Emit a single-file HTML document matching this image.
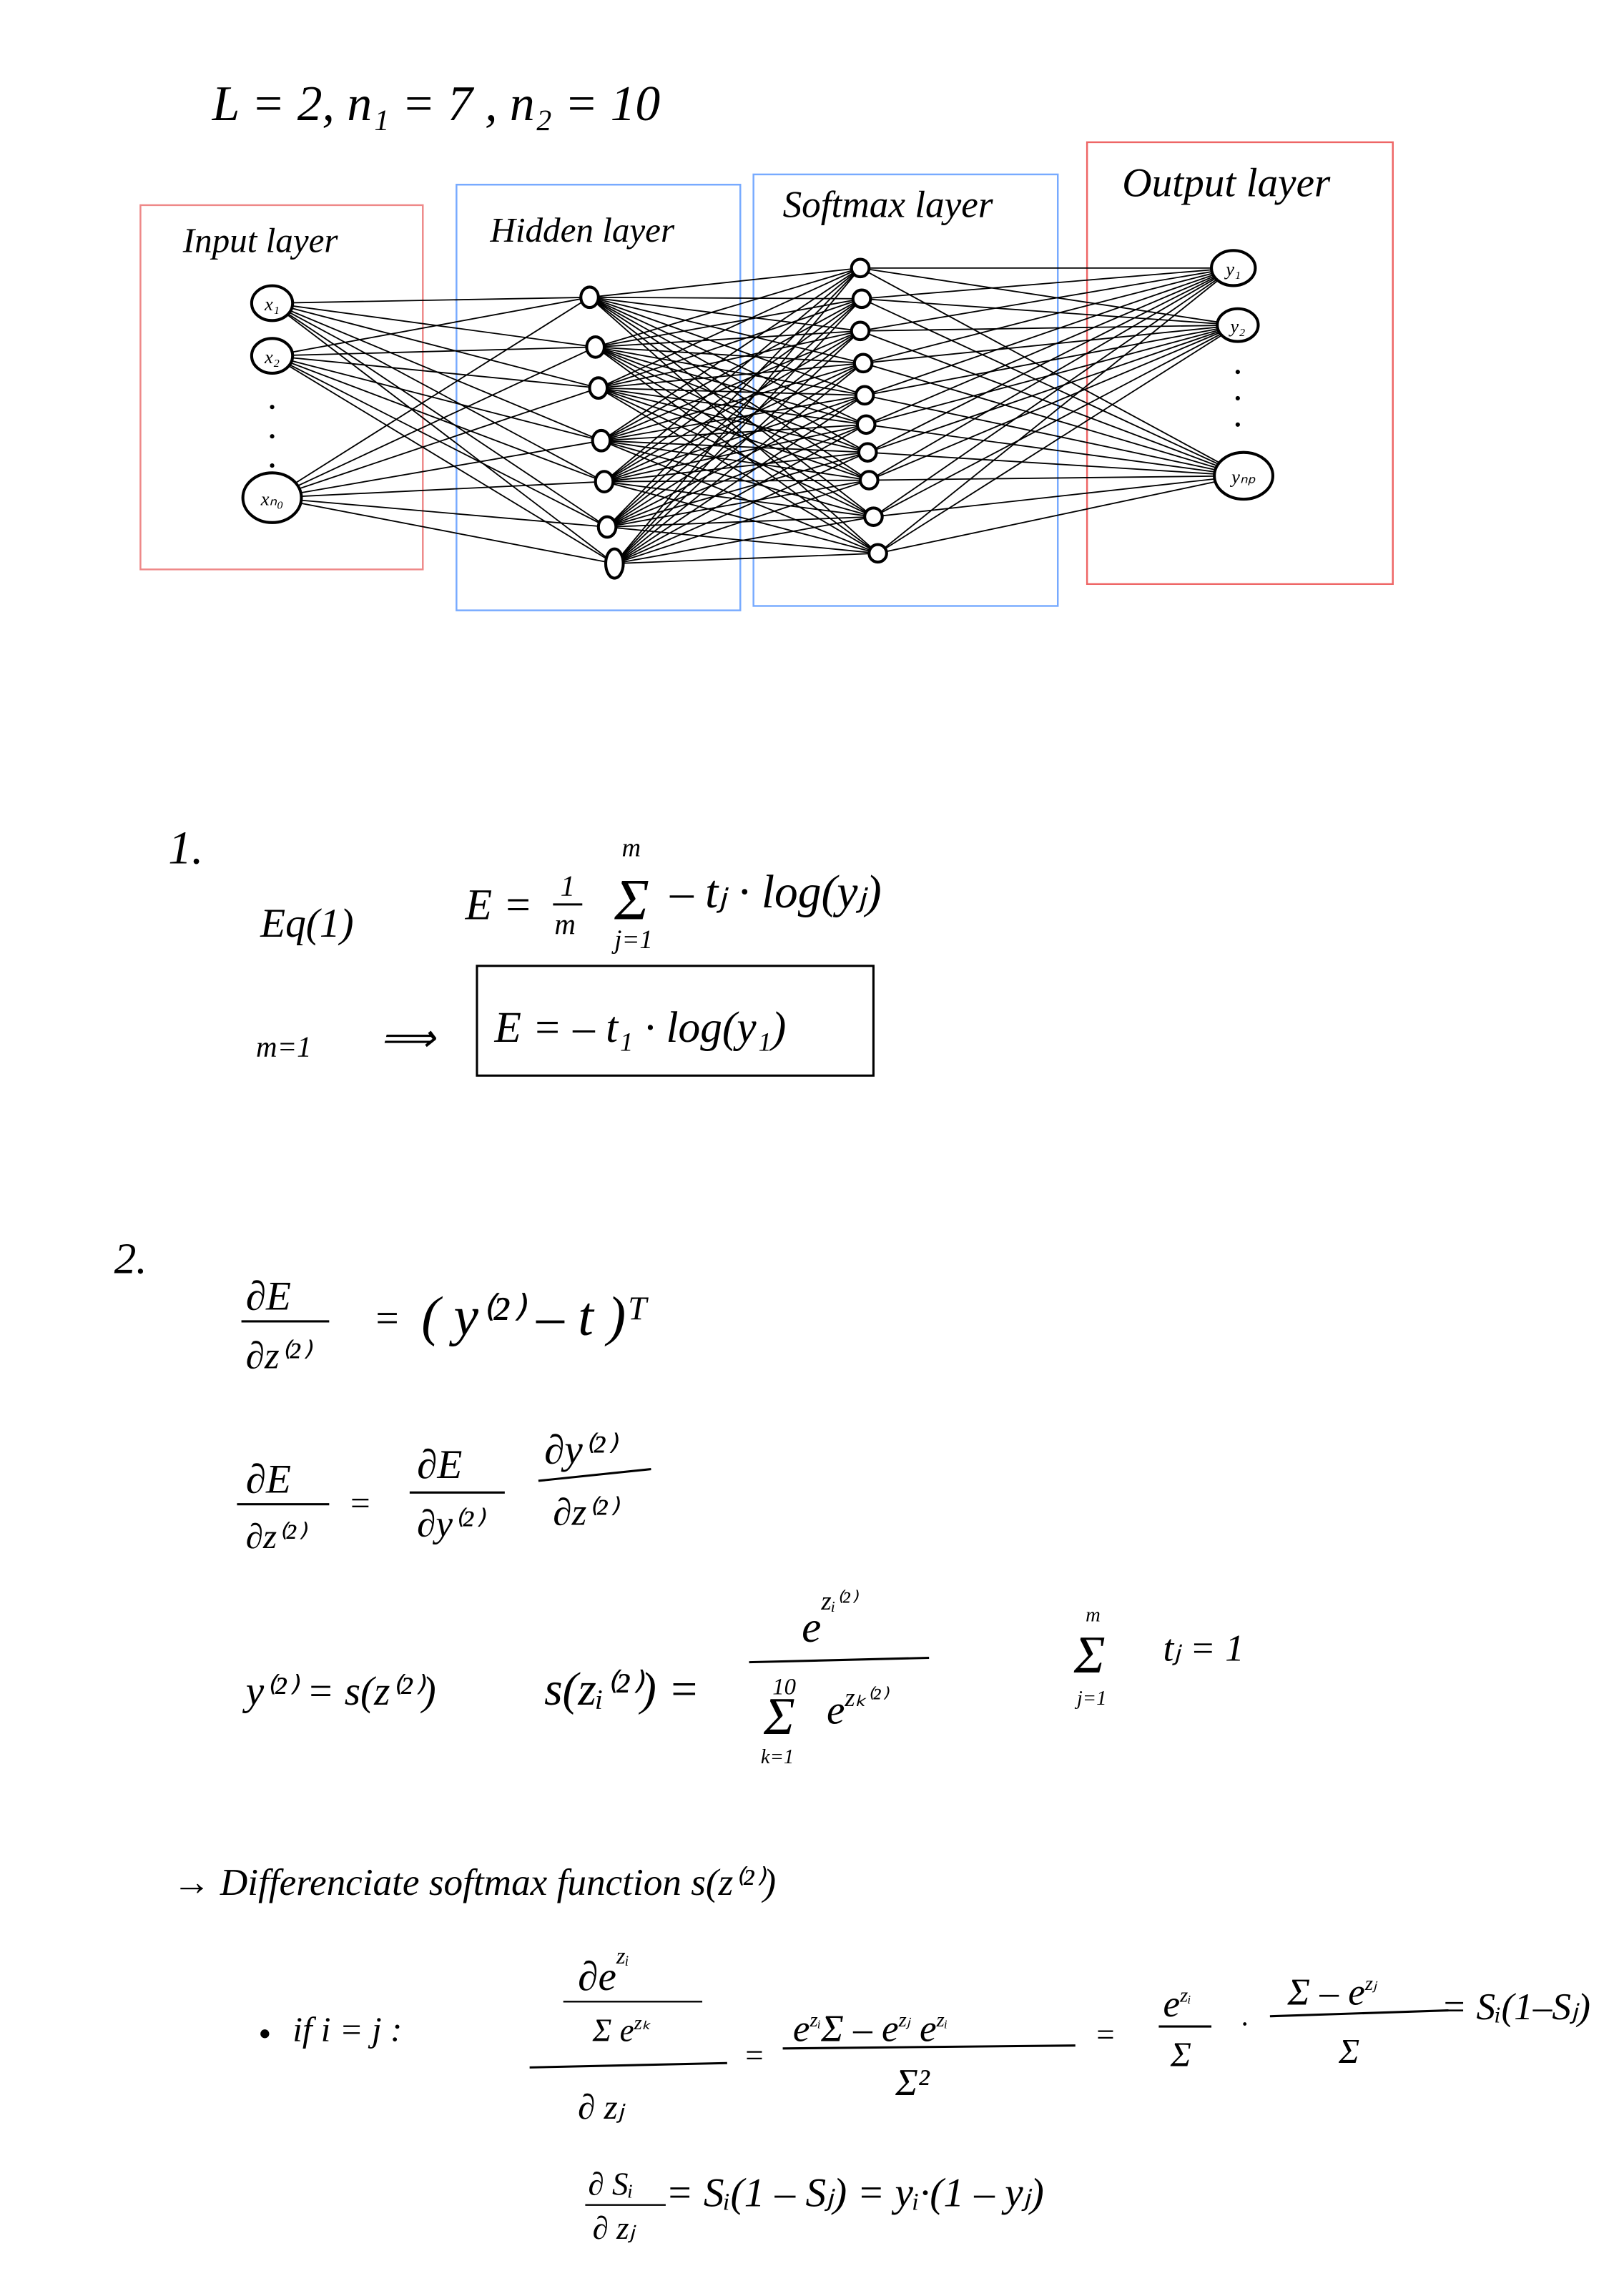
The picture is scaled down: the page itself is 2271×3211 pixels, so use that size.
<!DOCTYPE html>
<html><head><meta charset="utf-8"><style>
html,body{margin:0;padding:0;background:#fff}
svg{display:block}
text{font-family:"Liberation Serif",serif;fill:#000;font-style:italic}
</style></head><body>
<svg id="s" width="2271" height="3211" viewBox="0 0 1110 1569" xmlns="http://www.w3.org/2000/svg">
<rect width="1110" height="1569" fill="#fff"/>
<text x="145" y="82" font-size="34">L = 2,   n₁ = 7 ,  n₂ = 10</text>
<rect x="96" y="140" width="193" height="249" fill="none" stroke="#e88" stroke-width="1.2"/>
<rect x="312" y="126" width="194" height="291" fill="none" stroke="#7af" stroke-width="1.2"/>
<rect x="515" y="119" width="208" height="295" fill="none" stroke="#7af" stroke-width="1.2"/>
<rect x="743" y="97" width="209" height="302" fill="none" stroke="#e66" stroke-width="1.2"/>
<text x="125" y="172" font-size="24">Input layer</text>
<text x="335" y="165" font-size="24">Hidden layer</text>
<text x="535" y="148" font-size="26">Softmax layer</text>
<text x="767" y="134" font-size="28">Output layer</text>
<g id="edges" stroke="#000" stroke-width="0.9"></g>
<g id="nodes"></g>
<g fill="#000">
<circle cx="186" cy="278" r="1.5"/><circle cx="186" cy="298" r="1.5"/><circle cx="186" cy="318" r="1.5"/>
<circle cx="846" cy="254" r="1.5"/><circle cx="846" cy="272" r="1.5"/><circle cx="846" cy="290" r="1.5"/>
</g>
<text x="115" y="590" font-size="32">1.</text>
<text x="178" y="640" font-size="28">Eq(1)</text>
<text x="318" y="628" font-size="30">E =</text>
<text x="383" y="612" font-size="20">1</text>
<line x1="378" y1="618" x2="398" y2="618" stroke="#000" stroke-width="1.5"/>
<text x="379" y="638" font-size="20">m</text>
<text x="425" y="585" font-size="18">m</text>
<text x="420" y="628" font-size="40">Σ</text>
<text x="420" y="648" font-size="18">j=1</text>
<text x="458" y="620" font-size="32">– tⱼ · log(yⱼ)</text>
<text x="175" y="722" font-size="20">m=1</text>
<text x="260" y="718" font-size="26">⟹</text>
<rect x="326" y="660" width="271" height="75" fill="none" stroke="#000" stroke-width="1.5"/>
<text x="338" y="712" font-size="30">E =  – t₁ · log(y₁)</text>
<text x="78" y="870" font-size="30">2.</text>
<text x="168" y="895" font-size="28">∂E</text>
<line x1="165" y1="903" x2="225" y2="903" stroke="#000" stroke-width="1.5"/>
<text x="168" y="935" font-size="26">∂z⁽²⁾</text>
<text x="255" y="910" font-size="28">=</text>
<text x="288" y="912" font-size="38">( y⁽²⁾ – t )ᵀ</text>
<text x="168" y="1020" font-size="28">∂E</text>
<line x1="162" y1="1028" x2="225" y2="1028" stroke="#000" stroke-width="1.5"/>
<text x="168" y="1058" font-size="24">∂z⁽²⁾</text>
<text x="238" y="1035" font-size="24">=</text>
<text x="285" y="1010" font-size="28">∂E</text>
<line x1="280" y1="1020" x2="345" y2="1020" stroke="#000" stroke-width="1.5"/>
<text x="285" y="1050" font-size="26">∂y⁽²⁾</text>
<text x="372" y="1000" font-size="28">∂y⁽²⁾</text>
<line x1="368" y1="1012" x2="445" y2="1004" stroke="#000" stroke-width="1.5"/>
<text x="378" y="1042" font-size="26">∂z⁽²⁾</text>
<text x="168" y="1165" font-size="28">y⁽²⁾ = s(z⁽²⁾)</text>
<text x="372" y="1165" font-size="32">s(zᵢ⁽²⁾) =</text>
<text x="548" y="1122" font-size="30">e<tspan font-size="18" dy="-22">zᵢ⁽²⁾</tspan></text>
<line x1="512" y1="1136" x2="635" y2="1133" stroke="#000" stroke-width="1.5"/>
<text x="528" y="1158" font-size="16">10</text>
<text x="522" y="1185" font-size="36">Σ</text>
<text x="520" y="1205" font-size="14">k=1</text>
<text x="565" y="1178" font-size="28">e<tspan font-size="18" dy="-12">zₖ⁽²⁾</tspan></text>
<text x="742" y="1108" font-size="14">m</text>
<text x="734" y="1143" font-size="36">Σ</text>
<text x="736" y="1165" font-size="14">j=1</text>
<text x="795" y="1135" font-size="26">tⱼ = 1</text>
<text x="118" y="1295" font-size="26">→ Differenciate   softmax   function   s(z⁽²⁾)</text>
<circle cx="181" cy="1390" r="3" fill="#000"/>
<text x="200" y="1395" font-size="24">if  i = j  :</text>
<text x="395" y="1360" font-size="28">∂e<tspan font-size="16" dy="-18">zᵢ</tspan></text>
<line x1="385" y1="1368" x2="480" y2="1368" stroke="#000" stroke-width="1.2"/>
<text x="405" y="1395" font-size="22">Σ e<tspan font-size="14" dy="-8">zₖ</tspan></text>
<line x1="362" y1="1413" x2="497" y2="1410" stroke="#000" stroke-width="1.5"/>
<text x="395" y="1448" font-size="24">∂ zⱼ</text>
<text x="508" y="1412" font-size="22">=</text>
<text x="542" y="1395" font-size="26">e<tspan font-size="14" dy="-10">zᵢ</tspan><tspan dy="10">Σ  – e</tspan><tspan font-size="14" dy="-10">zⱼ</tspan><tspan dy="10"> e</tspan><tspan font-size="14" dy="-10">zᵢ</tspan></text>
<line x1="535" y1="1400" x2="735" y2="1398" stroke="#000" stroke-width="1.5"/>
<text x="612" y="1432" font-size="26">Σ²</text>
<text x="748" y="1398" font-size="22">=</text>
<text x="795" y="1378" font-size="26">e<tspan font-size="14" dy="-10">zᵢ</tspan></text>
<line x1="792" y1="1385" x2="828" y2="1385" stroke="#000" stroke-width="1.5"/>
<text x="800" y="1412" font-size="24">Σ</text>
<text x="848" y="1390" font-size="20">·</text>
<text x="880" y="1370" font-size="26">Σ – e<tspan font-size="14" dy="-10">zⱼ</tspan></text>
<line x1="868" y1="1378" x2="990" y2="1374" stroke="#000" stroke-width="1.5"/>
<text x="915" y="1410" font-size="24">Σ</text>
<text x="985" y="1380" font-size="26">= Sᵢ(1–Sⱼ)</text>
<text x="402" y="1500" font-size="22">∂ Sᵢ</text>
<line x1="400" y1="1507" x2="455" y2="1507" stroke="#000" stroke-width="1.2"/>
<text x="405" y="1530" font-size="22">∂ zⱼ</text>
<text x="455" y="1508" font-size="28">= Sᵢ(1 – Sⱼ) = yᵢ·(1 – yⱼ)</text>
</svg>
<script>
const inputX=[186,186,186];
const inputY=[207,243,340];
const inputR=[14,14,20];
const inputLabels=["x₁","x₂","xₙ₀"];
const hiddenX=[403,407,409,411,413,415,420];
const hiddenY=[203,237,265,301,329,360,385];
const softX=[588,589,588,590,591,592,593,594,597,600];
const softY=[183,204,226,248,270,290,309,328,353,378];
const outX=[843,846,850];
const outY=[183,222,325];
const outR=[15,14,20];
const outLabels=["y₁","y₂","yₙₚ"];
const NS="http://www.w3.org/2000/svg";
const eg=document.getElementById('edges'), ng=document.getElementById('nodes');
function line(x1,y1,x2,y2){const l=document.createElementNS(NS,'line');l.setAttribute('x1',x1);l.setAttribute('y1',y1);l.setAttribute('x2',x2);l.setAttribute('y2',y2);


eg.appendChild(l);}
function conn(ax,ay,bx,by){for(let i=0;i<ax.length;i++)for(let j=0;j<bx.length;j++)line(ax[i],ay[i],bx[j],by[j]);}
conn(inputX,inputY,hiddenX,hiddenY);conn(hiddenX,hiddenY,softX,softY);conn(softX,softY,outX,outY);
function node(x,y,rx,ry,name,label,fs){const e=document.createElementNS(NS,'ellipse');e.setAttribute('cx',x);e.setAttribute('cy',y);e.setAttribute('rx',rx);e.setAttribute('ry',ry);e.setAttribute('fill','#fff');e.setAttribute('stroke','#000');e.setAttribute('stroke-width','2');


ng.appendChild(e);
if(label){const t=document.createElementNS(NS,'text');t.setAttribute('x',x);t.setAttribute('y',y+5);t.setAttribute('text-anchor','middle');t.setAttribute('font-size',fs);t.textContent=label;


ng.appendChild(t);}}
inputX.forEach((x,i)=>node(x,inputY[i],inputR[i],inputR[i]*0.85,'input-node',inputLabels[i],13));
hiddenX.forEach((x,i)=>node(x,hiddenY[i],6,7+(i==6?3:0),'hidden-node',null));
softX.forEach((x,i)=>node(x,softY[i],6,6,'softmax-node',null));
outX.forEach((x,i)=>node(x,outY[i],outR[i],outR[i]*0.8,'output-node',outLabels[i],13));
</script>
</body></html>
